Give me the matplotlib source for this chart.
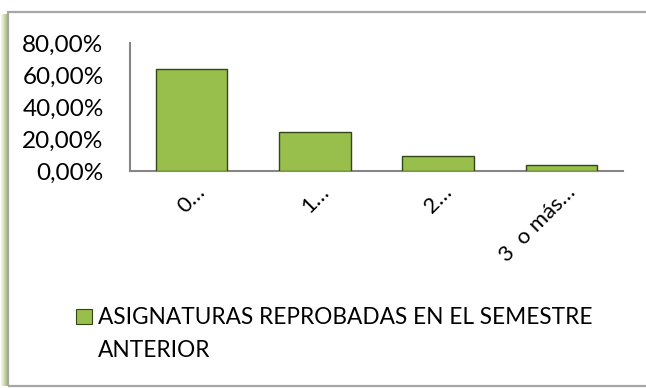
#!/usr/bin/env python3
import numpy as np
import matplotlib
matplotlib.use('Agg')
import matplotlib.pyplot as plt
from matplotlib.patches import Rectangle
from matplotlib.transforms import ScaledTranslation

categories = ['0…', '1…', '2…', '3  o más…']
values = [0.6375, 0.244, 0.094, 0.035]
yticks = [0.0, 0.2, 0.4, 0.6, 0.8]
ytick_labels = ['0,00%', '20,00%', '40,00%', '60,00%', '80,00%']
series_name = 'ASIGNATURAS REPROBADAS EN EL SEMESTRE'
series_name_2 = 'ANTERIOR'

W, H = 646, 388
plt.rcParams['font.family'] = ['Lato', 'DejaVu Sans']

def fx(px):
    return px / W

def fy(py):
    return 1 - py / H

fig = plt.figure(figsize=(W / 100, H / 100), dpi=100)
fig.patch.set_facecolor('white')

# outer frame of the chart area
fig.add_artist(Rectangle((fx(8), fy(386)), fx(660) - fx(8), fy(12) - fy(386),
                         transform=fig.transFigure, fill=False,
                         edgecolor='#a6a6a6', lw=1.6))

# green shadow on the left edge
sh = fig.add_axes([0, fy(386), fx(8), fy(14) - fy(386)])
grad = np.linspace(0, 1, 8)[None, :]
sh.imshow(np.repeat(grad, 50, axis=0), aspect='auto', cmap=matplotlib.colors.LinearSegmentedColormap.from_list('g', ['#ffffff', '#a3bd72']),
          extent=[0, 1, 0, 1])
sh.axis('off')

ax = fig.add_axes([fx(130), fy(171), fx(623) - fx(130), fy(43) - fy(171)])
x = np.arange(len(categories))
ax.bar(x, values, width=0.58, color='#98bf4b', edgecolor='#34451a', linewidth=1.0, zorder=3)
ax.set_xlim(-0.5, len(categories) - 0.5)
ax.set_ylim(0, 0.8)

for s in ['top', 'right']:
    ax.spines[s].set_visible(False)
for s in ['left', 'bottom']:
    ax.spines[s].set_color('#868686')
    ax.spines[s].set_linewidth(1.5)

ax.set_yticks(yticks)
ax.set_yticklabels(ytick_labels, fontsize=17.5)
ax.tick_params(axis='y', length=0, pad=19)
ax.set_xticks(x)
ax.set_xticklabels(categories, fontsize=16, rotation=45, ha='right',
                   va='baseline', rotation_mode='anchor')
ax.tick_params(axis='x', length=0, pad=0)
off = ScaledTranslation(15 / 100, -22 / 100, fig.dpi_scale_trans)
for lbl in ax.get_xticklabels():
    lbl.set_transform(lbl.get_transform() + off)

# legend
fig.add_artist(Rectangle((fx(76), fy(324)), fx(92) - fx(76), fy(309) - fy(324),
                         transform=fig.transFigure, facecolor='#98bf4b',
                         edgecolor='#34451a', lw=0.8))
fig.text(fx(98), fy(324), series_name, fontsize=16.3, va='baseline', ha='left')
fig.text(fx(98), fy(357), series_name_2, fontsize=16.3, va='baseline', ha='left')

fig.savefig('out.png', dpi=100)
